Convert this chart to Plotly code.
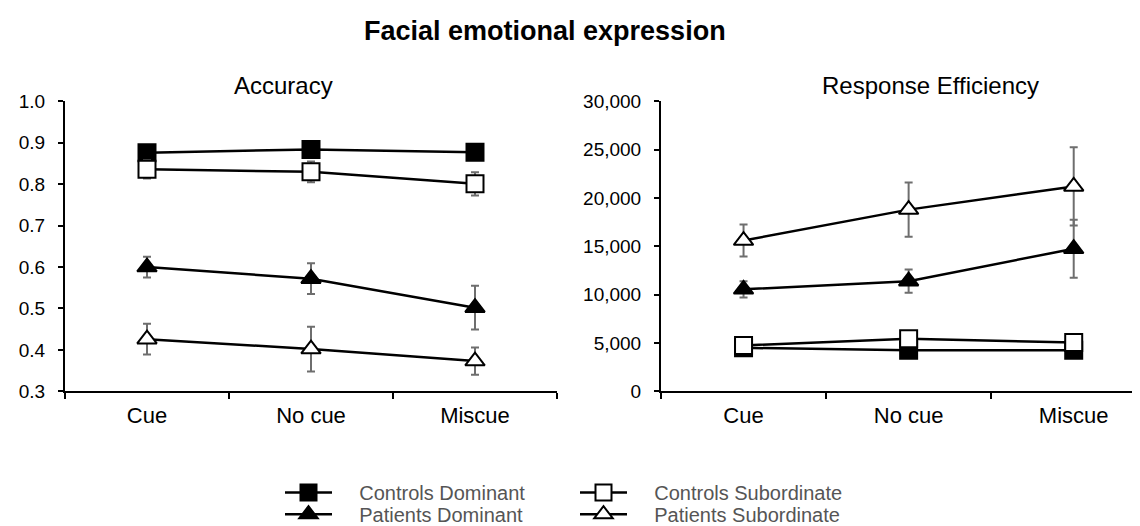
import plotly.graph_objects as go

categories = ["Cue", "No cue", "Miscue"]

series_names = ["Controls Dominant", "Controls Subordinate", "Patients Dominant", "Patients Subordinate"]

acc_cd = [0.876, 0.884, 0.877]
acc_cd_err = [0.010, 0.010, 0.010]
acc_cs = [0.836, 0.830, 0.801]
acc_cs_err = [0.022, 0.025, 0.028]
acc_pd = [0.600, 0.572, 0.502]
acc_pd_err = [0.025, 0.037, 0.053]
acc_ps = [0.426, 0.402, 0.373]
acc_ps_err = [0.037, 0.054, 0.033]

re_cd = [4500, 4250, 4250]
re_cd_err = [300, 300, 300]
re_cs = [4750, 5450, 5050]
re_cs_err = [400, 400, 400]
re_pd = [10550, 11400, 14750]
re_pd_err = [850, 1200, 3000]
re_ps = [15600, 18800, 21200]
re_ps_err = [1650, 2800, 4050]

W, H = 1140, 526
FONT = "Liberation Sans, Arial, sans-serif"
PAD = "\u00a0" * 4  # visual gap between legend symbol and label

def px_x(p):
    return p / W

def px_y(p):
    return 1 - p / H

styles = {
    "Controls Dominant": dict(symbol="square", color="black", size=17),
    "Controls Subordinate": dict(symbol="square", color="white", size=17),
    "Patients Dominant": dict(symbol="triangle-up", color="black", size=17),
    "Patients Subordinate": dict(symbol="triangle-up", color="white", size=17),
}
legend_of = {
    "Controls Dominant": "legend",
    "Controls Subordinate": "legend",
    "Patients Dominant": "legend2",
    "Patients Subordinate": "legend2",
}

acc = {"Controls Dominant": (acc_cd, acc_cd_err), "Controls Subordinate": (acc_cs, acc_cs_err),
       "Patients Dominant": (acc_pd, acc_pd_err), "Patients Subordinate": (acc_ps, acc_ps_err)}
rem = {"Controls Dominant": (re_cd, re_cd_err), "Controls Subordinate": (re_cs, re_cs_err),
       "Patients Dominant": (re_pd, re_pd_err), "Patients Subordinate": (re_ps, re_ps_err)}

fig = go.Figure()

for data, xa, ya, show in [(acc, "x", "y", True), (rem, "x2", "y2", False)]:
    for name in series_names:
        vals, errs = data[name]
        st = styles[name]
        fig.add_trace(go.Scatter(
            x=categories, y=vals, name=PAD + name, mode="lines+markers",
            xaxis=xa, yaxis=ya, legendgroup=name, showlegend=show,
            legend=legend_of[name],
            line=dict(color="black", width=2.5),
            marker=dict(symbol=st["symbol"], size=st["size"], color=st["color"],
                        line=dict(color="black", width=2)),
            error_y=dict(type="data", array=errs, visible=True, color="#6e6e6e",
                         thickness=2, width=4),
        ))

axis_common = dict(showline=True, linecolor="black", linewidth=2, ticks="outside",
                   tickcolor="black", tickwidth=1.5, showgrid=False, zeroline=False,
                   automargin=False)

legend_common = dict(orientation="h", x=px_x(272), xanchor="left", yanchor="middle",
                     font=dict(size=20, family=FONT, color="#555555"), itemwidth=47,
                     entrywidth=233, bgcolor="rgba(0,0,0,0)", traceorder="normal")

fig.update_layout(
    width=W, height=H,
    margin=dict(l=0, r=0, t=0, b=0),
    paper_bgcolor="white", plot_bgcolor="white",
    font=dict(family=FONT, color="black"),
    xaxis=dict(domain=[px_x(57), px_x(549)], type="category", range=[-0.5, 2.5],
               tickson="boundaries", ticklen=6, anchor="y", ticklabelstandoff=3,
               tickfont=dict(size=22, family=FONT, color="black"), **axis_common),
    yaxis=dict(domain=[px_y(390), px_y(95)], range=[0.3, 1.0], dtick=0.1, tickformat=".1f",
               ticklen=5, anchor="x", tickfont=dict(size=19, family=FONT, color="black"),
               ticklabelstandoff=9, **axis_common),
    xaxis2=dict(domain=[px_x(653), 1.0], type="category", range=[-0.5, 2.45],
                tickson="boundaries", ticklen=6, anchor="y2", ticklabelstandoff=3,
                tickfont=dict(size=22, family=FONT, color="black"), **axis_common),
    yaxis2=dict(domain=[px_y(390), px_y(95)], range=[0, 30000], dtick=5000, tickformat=",d",
                ticklen=5, anchor="x2", tickfont=dict(size=19, family=FONT, color="black"),
                ticklabelstandoff=9, **axis_common),
    legend=dict(y=px_y(493), **legend_common),
    legend2=dict(y=px_y(515), **legend_common),
    annotations=[
        dict(text="<b>Facial emotional expression</b>", x=px_x(537), y=px_y(23),
             xref="paper", yref="paper", xanchor="center", yanchor="middle",
             showarrow=False, font=dict(size=27, family=FONT, color="black")),
        dict(text="Accuracy", x=px_x(275), y=px_y(79), xref="paper", yref="paper",
             xanchor="center", yanchor="middle", showarrow=False,
             font=dict(size=24, family=FONT, color="black")),
        dict(text="Response Efficiency", x=px_x(922), y=px_y(79), xref="paper", yref="paper",
             xanchor="center", yanchor="middle", showarrow=False,
             font=dict(size=24, family=FONT, color="black")),
    ],
)

fig.write_html("out.html")
